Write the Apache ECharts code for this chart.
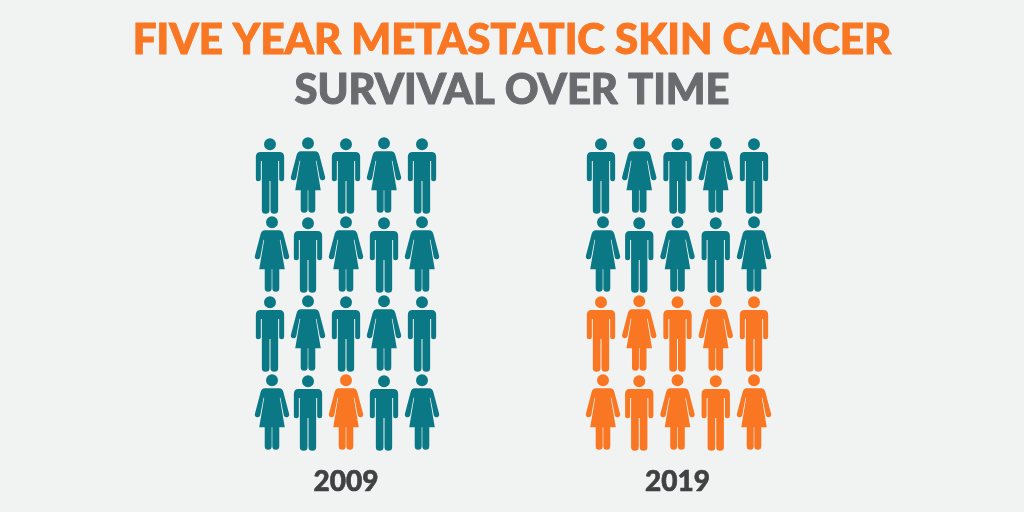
<!DOCTYPE html>
<html><head><meta charset="utf-8">
<style>html,body{margin:0;padding:0;background:#f1f3f2}#c{width:1024px;height:512px}</style>
<script src="https://cdn.jsdelivr.net/npm/echarts@6/dist/echarts.min.js"></script>
</head><body><div id="c"></div>
<script>
const titleLine1 = 'FIVE YEAR METASTATIC SKIN CANCER';
const titleLine2 = 'SURVIVAL OVER TIME';
const years = ['2009', '2019'];
// m = man, w = woman, one string per row
const figures2009 = ['mwmwm', 'wmwmw', 'mwmwm', 'wmwmw'];
const figures2019 = ['mwmwm', 'wmwmw', 'mwmwm', 'wmwmw'];
// 1 = survivor (orange), 0 = other (teal)
const survivors2009 = ['00000', '00000', '00000', '00100'];
const survivors2019 = ['00000', '00000', '11111', '11111'];

const ORANGE = '#f97622', TEAL = '#0b7886', GREY = '#6a6b6f';
const manPath = 'path://M24.5 18a18 18 0 1 1 36 0a18 18 0 1 1-36 0ZM14 41H71Q85 41 85 55V121a7.5 7.5 0 0 1-15 0V68H67V214a11.5 11.5 0 0 1-23 0V128H41V214a11.5 11.5 0 0 1-23 0V68H15V121a7.5 7.5 0 0 1-15 0V55Q0 41 14 41Z';
const womanPath = 'path://M33.5 18a18 18 0 1 1 36 0a18 18 0 1 1-36 0ZM30 42H73Q83 42 86 54L103 118a8 8 0 0 1-16 4L77 70H75L90 158H73.5V214.5a10.5 10.5 0 0 1-21 0V158H50.5V214.5a10.5 10.5 0 0 1-21 0V158H13L28 70H26L16 122a8 8 0 0 1-16-4L17 54Q20 42 30 42Z';

function points(figures, survivors) {
  const out = [];
  figures.forEach((row, r) => [...row].forEach((g, c) => {
    const s = survivors[r][c] === '1';
    out.push({
      value: [c, r],
      symbol: g === 'm' ? manPath : womanPath,
      symbolSize: g === 'm' ? [28.3, 75.5] : [34.3, 75.5],
      symbolOffset: g === 'm' ? [0, 0] : [c === 0 ? 2 : 0, -1],
      itemStyle: { color: s ? ORANGE : TEAL, opacity: 1 }
    });
  }));
  return out;
}
const grids = [
  { left: 270, top: 176, width: 152, height: 237 },
  { left: 601, top: 176, width: 153, height: 237 }
];
const xAxes = years.map((y, i) => ({
  gridIndex: i, type: 'value', min: 0, max: 4, interval: 1, splitLine: { show: false },
  axisLine: { show: false }, axisTick: { show: false }, axisLabel: { show: false },
  name: y, nameLocation: 'middle', nameGap: 55,
  nameTextStyle: { fontFamily: 'Lato', fontWeight: 900, fontSize: 28, color: '#404143', textBorderColor: '#404143', textBorderWidth: 0.6 }
}));
const yAxes = years.map((y, i) => ({
  gridIndex: i, type: 'value', min: 0, max: 3, interval: 1, inverse: true, show: false
}));
const chart = echarts.init(document.getElementById('c'), null, { renderer: 'canvas' });
chart.setOption({
  animation: false,
  backgroundColor: '#f1f3f2',
  title: [
    { text: titleLine1, left: 507, top: 14, textAlign: 'center', textStyle: { fontFamily: 'Lato', fontWeight: 900, fontSize: 42, color: ORANGE, textBorderColor: ORANGE, textBorderWidth: 1 } },
    { text: titleLine2, left: 507, top: 65, textAlign: 'center', textStyle: { fontFamily: 'Lato', fontWeight: 900, fontSize: 41.8, color: GREY, textBorderColor: GREY, textBorderWidth: 1 } }
  ],
  grid: grids, xAxis: xAxes, yAxis: yAxes,
  series: [
    { type: 'scatter', xAxisIndex: 0, yAxisIndex: 0, data: points(figures2009, survivors2009), clip: false },
    { type: 'scatter', xAxisIndex: 1, yAxisIndex: 1, data: points(figures2019, survivors2019), clip: false }
  ]
});
</script></body></html>
